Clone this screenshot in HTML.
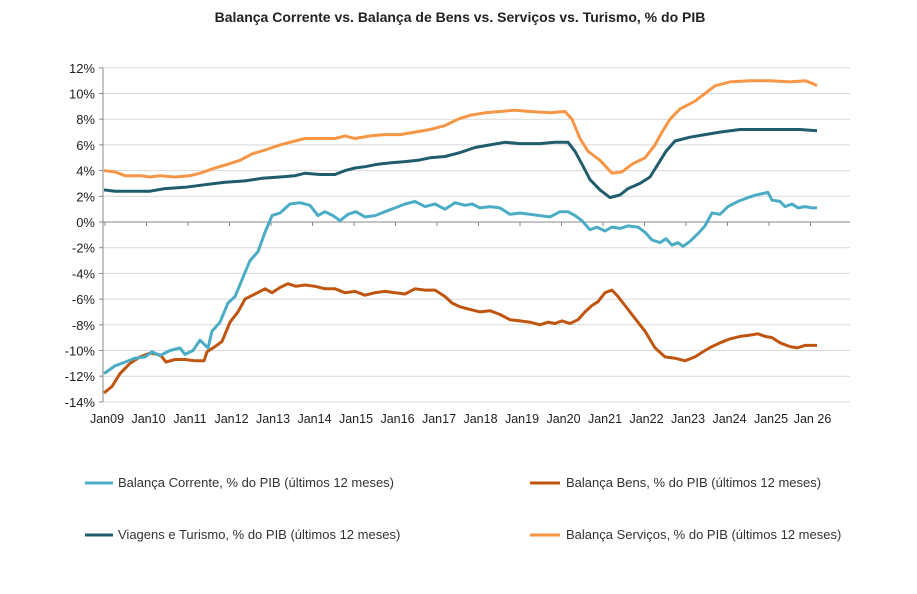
<!DOCTYPE html>
<html><head><meta charset="utf-8"><style>
body{margin:0;background:#fff;width:917px;height:589px;overflow:hidden;font-family:"Liberation Sans",Arial,sans-serif}
</style></head><body>
<svg id="s" width="917" height="589" xmlns="http://www.w3.org/2000/svg" font-family="Liberation Sans, Arial, sans-serif">
<text x="460" y="22" text-anchor="middle" font-size="14" font-weight="bold" fill="#222">Balança Corrente vs. Balança de Bens vs. Serviços vs. Turismo, % do PIB</text>
<g id="grid"></g>
<g id="lines" fill="none" stroke-width="3" stroke-linejoin="round"></g>
<g font-size="13" fill="#333">
<line x1="85" y1="483" x2="113" y2="483" stroke="#4BACC6" stroke-width="3"/><text x="118" y="487">Balança Corrente,  % do PIB (últimos 12 meses)</text>
<line x1="530" y1="483" x2="560" y2="483" stroke="#C0550F" stroke-width="3"/><text x="566" y="487">Balança Bens,  % do PIB (últimos 12 meses)</text>
<line x1="85" y1="535" x2="113" y2="535" stroke="#1F5C6E" stroke-width="3"/><text x="118" y="539">Viagens e Turismo,  % do PIB (últimos 12 meses)</text>
<line x1="530" y1="535" x2="560" y2="535" stroke="#F79646" stroke-width="3"/><text x="566" y="539">Balança Serviços,  % do PIB (últimos 12 meses)</text>
</g>
</svg>
<script>
var NS="http://www.w3.org/2000/svg";
function Y(v){return 222-12.85*v;}
function el(p,t,a,txt){var e=document.createElementNS(NS,t);for(var k in a)e.setAttribute(k,a[k]);if(txt)e.textContent=txt;p.appendChild(e);return e;}
var g=document.getElementById('grid');
for(var v=12;v>=-14;v-=2){var y=Y(v);
 if(v!=0)el(g,'line',{x1:103,x2:850,y1:y,y2:y,stroke:'#d9d9d9','stroke-width':1});
 el(g,'line',{x1:99,x2:103,y1:y,y2:y,stroke:'#888'});
 el(g,'text',{x:95,y:y+5,'text-anchor':'end','font-size':13,fill:'#222'},v+'%');}
el(g,'line',{x1:103,x2:103,y1:Y(12),y2:Y(-14),stroke:'#888'});
el(g,'line',{x1:103,x2:850,y1:Y(0),y2:Y(0),stroke:'#888'});
var labs=['Jan09','Jan10','Jan11','Jan12','Jan13','Jan14','Jan15','Jan16','Jan17','Jan18','Jan19','Jan20','Jan21','Jan22','Jan23','Jan24','Jan25','Jan 26'];
for(var i=0;i<18;i++){var x=105+i*41.5;
 el(g,'line',{x1:x,x2:x,y1:Y(0),y2:Y(0)+4,stroke:'#888'});
 el(g,'text',{x:x+2,y:423,'text-anchor':'middle','font-size':12.5,fill:'#222'},labs[i]);}
var D={
'#F79646':[[104,4.0],[115,3.9],[125,3.6],[140,3.6],[150,3.5],[160,3.6],[175,3.5],[190,3.6],[200,3.8],[215,4.2],[228,4.5],[240,4.8],[252,5.3],[265,5.6],[280,6.0],[295,6.3],[305,6.5],[320,6.5],[335,6.5],[345,6.7],[355,6.5],[370,6.7],[385,6.8],[400,6.8],[415,7.0],[430,7.2],[445,7.5],[458,8.0],[470,8.3],[485,8.5],[500,8.6],[515,8.7],[530,8.6],[550,8.5],[565,8.6],[572,8.0],[580,6.5],[588,5.5],[600,4.8],[612,3.8],[622,3.9],[632,4.5],[645,5.0],[655,6.0],[662,7.0],[670,8.0],[680,8.8],[695,9.4],[705,10.0],[715,10.6],[730,10.9],[750,11.0],[770,11.0],[790,10.9],[805,11.0],[812,10.8],[817,10.6]],
'#1F5C6E':[[104,2.5],[115,2.4],[130,2.4],[150,2.4],[165,2.6],[185,2.7],[205,2.9],[225,3.1],[245,3.2],[262,3.4],[280,3.5],[295,3.6],[305,3.8],[320,3.7],[335,3.7],[345,4.0],[355,4.2],[365,4.3],[378,4.5],[390,4.6],[405,4.7],[418,4.8],[430,5.0],[445,5.1],[460,5.4],[475,5.8],[490,6.0],[505,6.2],[520,6.1],[540,6.1],[555,6.2],[568,6.2],[575,5.5],[582,4.5],[590,3.3],[600,2.5],[610,1.9],[620,2.1],[628,2.6],[640,3.0],[650,3.5],[658,4.5],[666,5.5],[675,6.3],[690,6.6],[705,6.8],[720,7.0],[740,7.2],[760,7.2],[780,7.2],[800,7.2],[817,7.1]],
'#C0550F':[[104,-13.3],[112,-12.8],[120,-11.8],[130,-11.0],[140,-10.5],[150,-10.2],[158,-10.3],[162,-10.5],[166,-10.9],[175,-10.7],[185,-10.7],[195,-10.8],[204,-10.8],[207,-10.1],[215,-9.7],[222,-9.3],[230,-7.8],[238,-7.0],[245,-6.0],[255,-5.6],[265,-5.2],[272,-5.5],[280,-5.1],[288,-4.8],[296,-5.0],[305,-4.9],[315,-5.0],[325,-5.2],[335,-5.2],[345,-5.5],[355,-5.4],[365,-5.7],[375,-5.5],[385,-5.4],[395,-5.5],[405,-5.6],[415,-5.2],[425,-5.3],[435,-5.3],[445,-5.8],[452,-6.3],[460,-6.6],[470,-6.8],[480,-7.0],[490,-6.9],[500,-7.2],[510,-7.6],[520,-7.7],[530,-7.8],[540,-8.0],[548,-7.8],[555,-7.9],[562,-7.7],[570,-7.9],[578,-7.6],[585,-7.0],[592,-6.5],[598,-6.2],[605,-5.5],[612,-5.3],[618,-5.8],[625,-6.5],[635,-7.5],[645,-8.5],[655,-9.8],[665,-10.5],[675,-10.6],[685,-10.8],[695,-10.5],[705,-10.0],[712,-9.7],[720,-9.4],[730,-9.1],[740,-8.9],[750,-8.8],[758,-8.7],[765,-8.9],[772,-9.0],[780,-9.4],[790,-9.7],[797,-9.8],[805,-9.6],[812,-9.6],[817,-9.6]],
'#4BACC6':[[104,-11.8],[115,-11.2],[125,-10.9],[135,-10.6],[145,-10.5],[152,-10.1],[160,-10.4],[170,-10.0],[180,-9.8],[185,-10.3],[193,-10.0],[200,-9.2],[208,-9.8],[212,-8.5],[220,-7.8],[228,-6.3],[235,-5.8],[242,-4.5],[250,-3.0],[258,-2.3],[265,-0.8],[272,0.5],[280,0.7],[290,1.4],[300,1.5],[310,1.3],[318,0.5],[325,0.8],[333,0.5],[340,0.1],[348,0.6],[356,0.8],[365,0.4],[375,0.5],[385,0.8],[395,1.1],[405,1.4],[415,1.6],[425,1.2],[435,1.4],[445,1.0],[455,1.5],[465,1.3],[472,1.4],[480,1.1],[490,1.2],[500,1.1],[510,0.6],[520,0.7],[530,0.6],[540,0.5],[550,0.4],[560,0.8],[568,0.8],[575,0.5],[582,0.1],[590,-0.6],[597,-0.4],[605,-0.7],[612,-0.4],[620,-0.5],[628,-0.3],[638,-0.4],[645,-0.8],[652,-1.4],[660,-1.6],[666,-1.3],[672,-1.8],[678,-1.6],[683,-1.9],[690,-1.5],[698,-0.9],[705,-0.3],[712,0.7],[720,0.6],[728,1.2],[738,1.6],[748,1.9],[756,2.1],[762,2.2],[768,2.3],[772,1.7],[780,1.6],[785,1.2],[792,1.4],[798,1.1],[805,1.2],[812,1.1],[817,1.1]]};
var L=document.getElementById('lines');
for(var c in D){el(L,'polyline',{stroke:c,points:D[c].map(function(p){return p[0]+','+Y(p[1]).toFixed(1)}).join(' ')});}
</script>
</body></html>
